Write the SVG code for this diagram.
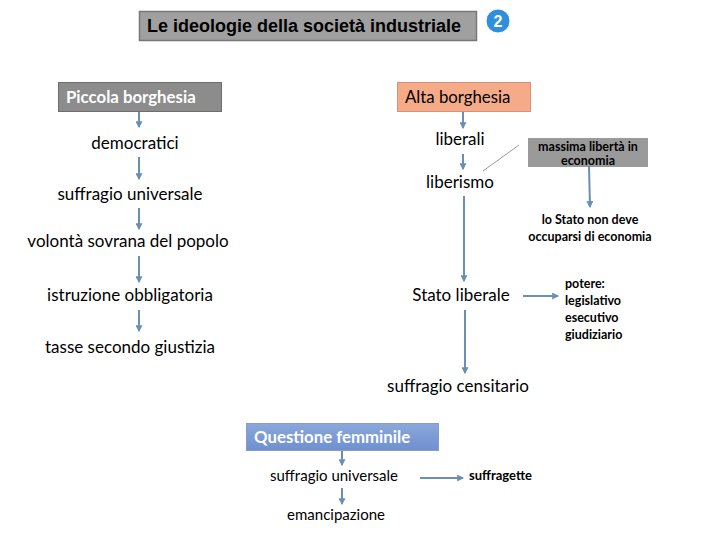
<svg xmlns="http://www.w3.org/2000/svg" width="720" height="540" viewBox="0 0 720 540">
<defs>
<marker id="ah" viewBox="0 0 6 6" refX="5" refY="3" markerWidth="3.500" markerHeight="3.500" orient="auto">
<path d="M0,0 L6,3 L0,6 z" fill="#6a8fb3"/>
</marker>
<linearGradient id="qf" x1="0" y1="0" x2="0" y2="1">
<stop offset="0" stop-color="#8aa8dc"/>
<stop offset="1" stop-color="#6f8fcf"/>
</linearGradient>
</defs>
<style>
.t{font-family:Lato,"Open Sans",sans-serif;font-size:17px;fill:#000}
.m{font-family:Lato,"Open Sans",sans-serif;font-size:15px;fill:#000}
.b{font-family:Lato,"Open Sans",sans-serif;font-size:12.500px;font-weight:bold;fill:#000}
.w{font-family:Lato,"Open Sans",sans-serif;font-size:16.800px;font-weight:bold;fill:#fff}
.c{stroke:#6a8fb3;stroke-width:2;fill:none;marker-end:url(#ah)}
</style>
<rect width="720" height="540" fill="#fff"/>
<g id="title">
<rect x="139.500" y="11.500" width="337" height="29" fill="#a0a0a0" stroke="#777" stroke-width="1.500"/>
<text x="147" y="32" style="font-family:'Liberation Sans',Arial,sans-serif;font-size:18px;font-weight:bold">Le ideologie della società industriale</text>
</g>
<g id="badge">
<circle cx="498" cy="21" r="12" fill="#2f8fdc" stroke="#fff" stroke-width="1"/>
<text x="498" y="27" text-anchor="middle" style="font-family:'Liberation Sans',Arial,sans-serif;font-size:16px;font-weight:bold;fill:#fff">2</text>
</g>
<g id="piccola">
<rect x="58.500" y="82.500" width="163" height="29" fill="#8c8c8c" stroke="#6e6e6e"/>
<text x="66" y="103" class="w">Piccola borghesia</text>
</g>
<g id="alta">
<rect x="397.500" y="82.500" width="133" height="29" fill="#f6ab88" stroke="#d8917a"/>
<text x="405" y="103" class="t" style="font-size:16.800px">Alta borghesia</text>
</g>
<g id="democratici"><text x="135" y="149" class="t" text-anchor="middle">democratici</text></g>
<g id="suffragio1"><text x="130" y="200" class="t" text-anchor="middle">suffragio universale</text></g>
<g id="volonta"><text x="128" y="247" class="t" text-anchor="middle">volontà sovrana del popolo</text></g>
<g id="istruzione"><text x="130" y="301" class="t" text-anchor="middle">istruzione obbligatoria</text></g>
<g id="tasse"><text x="130" y="353" class="t" text-anchor="middle">tasse secondo giustizia</text></g>
<g id="liberali"><text x="460" y="145" class="t" text-anchor="middle">liberali</text></g>
<g id="liberismo"><text x="460" y="188" class="t" text-anchor="middle">liberismo</text></g>
<g id="massima">
<rect x="528" y="138" width="120" height="29" fill="#9a9a9a"/>
<text x="588" y="151" class="b" text-anchor="middle">massima libertà in</text>
<text x="588" y="165" class="b" text-anchor="middle">economia</text>
</g>
<g id="nondeve">
<text x="590" y="224" class="b" text-anchor="middle">lo Stato non deve</text>
<text x="590" y="241" class="b" text-anchor="middle">occuparsi di economia</text>
</g>
<g id="statoliberale"><text x="461" y="301" class="t" text-anchor="middle">Stato liberale</text></g>
<g id="potere">
<text x="565" y="288" class="b">potere:</text>
<text x="565" y="305" class="b">legislativo</text>
<text x="565" y="322" class="b">esecutivo</text>
<text x="565" y="339" class="b">giudiziario</text>
</g>
<g id="censitario"><text x="458" y="392" class="t" text-anchor="middle">suffragio censitario</text></g>
<g id="questione">
<rect x="246.500" y="423.500" width="192" height="27" fill="url(#qf)" stroke="#8a9cc0"/>
<text x="254" y="443" class="w">Questione femminile</text>
</g>
<g id="suffragio2"><text x="334" y="481" class="m" text-anchor="middle">suffragio universale</text></g>
<g id="suffragette"><text x="469" y="480" class="b" style="font-size:13px">suffragette</text></g>
<g id="emancipazione"><text x="336" y="520" class="m" text-anchor="middle">emancipazione</text></g>
<g id="connectors">
<line x1="139" y1="112" x2="139" y2="127" class="c"/>
<line x1="139" y1="157" x2="139" y2="179" class="c"/>
<line x1="139" y1="208" x2="139" y2="229" class="c"/>
<line x1="139" y1="256" x2="139" y2="282" class="c"/>
<line x1="139" y1="310" x2="139" y2="331" class="c"/>
<line x1="463" y1="112" x2="463" y2="128" class="c"/>
<line x1="463" y1="154" x2="463" y2="169" class="c"/>
<line x1="464" y1="196" x2="464" y2="281" class="c"/>
<line x1="465" y1="310" x2="465" y2="373" class="c"/>
<line x1="483" y1="171" x2="519" y2="145" stroke="#999" stroke-width="1"/>
<line x1="589" y1="166" x2="590" y2="207" class="c"/>
<line x1="523" y1="296" x2="558" y2="296" class="c"/>
<line x1="342" y1="451" x2="342" y2="465" class="c"/>
<line x1="342" y1="488" x2="342" y2="504" class="c"/>
<line x1="420" y1="478" x2="463" y2="478" class="c"/>
</g>
</svg>
